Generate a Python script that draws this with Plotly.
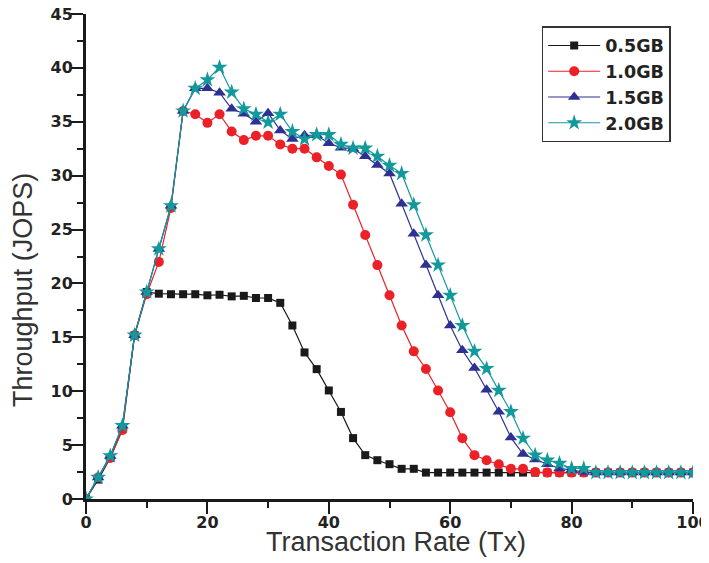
import plotly.graph_objects as go

x_vals = list(range(0, 101, 2))

gb05 = [0, 1.8, 3.8, 6.5, 15.2, 19.2, 19.05, 19.0, 19.0, 19.0, 18.9, 18.95, 18.8, 18.85, 18.65, 18.65,
        18.2, 16.1, 13.6, 12.05, 10.07, 8.08, 5.65, 4.07, 3.6, 3.23, 2.8, 2.8, 2.45] + [2.45] * 22
gb10 = [0, 2.0, 3.8, 6.4, 15.2, 19.0, 22.0, 27.0, 36.0, 35.7, 34.9, 35.7, 34.1, 33.3, 33.7, 33.7,
        32.9, 32.5, 32.5, 31.7, 30.9, 30.1, 27.3, 24.5, 21.7, 18.9, 16.1, 13.7, 12.06, 10.07, 8.05,
        5.63, 4.07, 3.6, 3.23, 2.8, 2.8, 2.5] + [2.45] * 13
gb15 = [0, 2.0, 4.0, 6.8, 15.2, 19.2, 23.2, 27.2, 36.0, 38.1, 38.1, 37.7, 36.2, 35.75, 35.0, 35.8,
        34.2, 33.4, 33.75, 33.75, 33.0, 32.6, 32.5, 31.8, 31.0, 30.2, 27.4, 24.6, 21.7, 18.9, 16.1,
        13.8, 12.15, 10.13, 8.1, 5.7, 4.17, 3.67, 3.23, 2.83, 2.7, 2.5] + [2.45] * 9
gb20 = [0, 2.0, 4.0, 6.8, 15.2, 19.2, 23.2, 27.2, 36.0, 38.1, 38.9, 40.05, 37.75, 36.2, 35.7, 34.95,
        35.7, 34.1, 33.4, 33.8, 33.8, 32.9, 32.55, 32.55, 31.8, 30.95, 30.2, 27.3, 24.5, 21.7, 18.9,
        16.1, 13.7, 12.1, 10.07, 8.1, 5.63, 4.07, 3.6, 3.3, 2.83, 2.83, 2.45] + [2.45] * 8

names = ["0.5GB", "1.0GB", "1.5GB", "2.0GB"]
series = [gb05, gb10, gb15, gb20]
colors = ["#1a1a1a", "#ec2027", "#2e3192", "#12999c"]
symbols = ["square", "circle", "triangle-up", "star"]
sizes = [8, 10, 11, 12]

x_title = "Transaction Rate (Tx)"
y_title = "Throughput (JOPS)"

fig = go.Figure()
for n, s, c, sym, sz in zip(names, series, colors, symbols, sizes):
    fig.add_trace(go.Scatter(
        x=x_vals, y=s, name=n, mode="lines+markers",
        line=dict(color=c, width=1.2),
        marker=dict(symbol=sym, size=sz, color=c, line=dict(width=0)),
    ))

tickfont = dict(family="DejaVu Sans", size=16, color="#222222", weight="bold")
titlefont = dict(family="Liberation Sans", size=27, color="#333333")

fig.update_layout(
    width=701, height=555,
    margin=dict(l=78, r=16, t=6, b=64),
    plot_bgcolor="white", paper_bgcolor="white",
    showlegend=True,
    legend=dict(
        x=0.7507, y=0.975, xanchor="left", yanchor="top",
        bordercolor="#333333", borderwidth=1.5,
        font=dict(family="DejaVu Sans", size=17.5, color="#222222", weight="bold"),
        itemwidth=52, tracegroupgap=0, bgcolor="white",
    ),
    xaxis=dict(
        range=[0, 100], dtick=20, tick0=0,
        showline=True, linewidth=3, linecolor="#1a1a1a",
        ticks="outside", ticklen=12, tickwidth=2, tickcolor="#1a1a1a",
        minor=dict(ticks="outside", ticklen=6, dtick=10, tickwidth=2, tickcolor="#1a1a1a", showgrid=False),
        showgrid=False, zeroline=False, tickfont=tickfont,
        ticklabeloverflow="allow", ticklabelstandoff=-5,
        automargin=False,
    ),
    yaxis=dict(
        range=[0, 45], dtick=5, tick0=0,
        showline=True, linewidth=3, linecolor="#1a1a1a",
        ticks="outside", ticklen=12, tickwidth=2, tickcolor="#1a1a1a",
        minor=dict(ticks="outside", ticklen=6, dtick=2.5, tickwidth=2, tickcolor="#1a1a1a", showgrid=False),
        showgrid=False, zeroline=False, tickfont=tickfont,
        ticklabeloverflow="allow", ticklabelstandoff=-5,
        automargin=False,
    ),
    annotations=[
        dict(text=x_title, xref="paper", yref="paper", x=0.5107, y=-0.088,
             xanchor="center", yanchor="middle", showarrow=False, font=titlefont),
        dict(text=y_title, xref="paper", yref="paper", x=-0.105, y=0.4316,
             xanchor="center", yanchor="middle", showarrow=False, font=titlefont, textangle=-90),
    ],
)

fig.write_html("out.html")
